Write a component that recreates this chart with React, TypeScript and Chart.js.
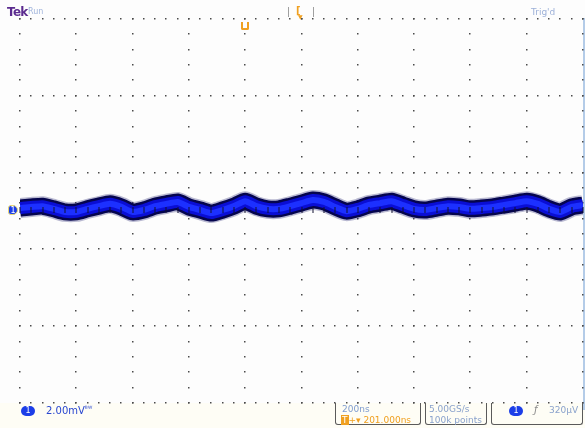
import React, { useEffect, useRef } from "react";
import { Chart, registerables } from "chart.js";

Chart.register(...registerables);

// time (ns) of each sample, relative to the trigger
const timeNs = [
  -800, -760, -720, -680, -640, -600, -560, -520, -480, -440,
  -400, -360, -320, -280, -240, -200, -160, -120, -80, -40,
  0, 40, 80, 120, 160, 200, 240, 280, 320, 360,
  400, 440, 480, 520, 560, 600, 640, 680, 720, 760,
  800, 840, 880, 920, 960, 1000, 1040, 1080, 1120, 1160, 1200,
];

// channel 1 trace centre (mV)
const ch1mV = [
  0.05, 0.08, 0.10, 0.03, -0.05, -0.05, 0.03, 0.10, 0.16, 0.08,
  -0.05, 0.00, 0.10, 0.16, 0.21, 0.08, 0.00, -0.08, 0.00, 0.10,
  0.23, 0.10, 0.03, 0.03, 0.10, 0.18, 0.26, 0.21, 0.08, -0.03,
  0.03, 0.13, 0.18, 0.23, 0.13, 0.03, 0.00, 0.05, 0.10, 0.08,
  0.03, 0.05, 0.08, 0.13, 0.18, 0.23, 0.16, 0.03, -0.05, 0.08, 0.13,
];

// graticule divisions
const xDivNs = [-800, -600, -400, -200, 0, 200, 400, 600, 800, 1000, 1200];
const yDivMv = [-5, -3, -1, 1, 3, 5];
const xMinorStepNs = 40;
const yMinorStepMv = 0.4;

const graticule = {
  id: "graticule",
  beforeDatasetsDraw(chart: any) {
    const { ctx, scales } = chart;
    const xs = scales.x;
    const ys = scales.y;
    ctx.save();
    ctx.fillStyle = "#4a4a4a";
    for (const xv of xDivNs) {
      const px = Math.round(xs.getPixelForValue(xv));
      for (let v = -5; v <= 5.001; v += yMinorStepMv) {
        const py = Math.round(ys.getPixelForValue(v));
        ctx.fillRect(px - 1, py, 1.5, 1.5);
      }
    }
    for (const yv of yDivMv) {
      const py = Math.round(ys.getPixelForValue(yv));
      for (let t = -800; t <= 1200.001; t += xMinorStepNs) {
        const px = Math.round(xs.getPixelForValue(t));
        ctx.fillRect(px - 1, py, 1.5, 1.5);
      }
    }
    ctx.restore();
  },
  afterDatasetsDraw(chart: any) {
    const { ctx, scales } = chart;
    const xs = scales.x;
    const ys = scales.y;
    ctx.save();
    ctx.fillStyle = "#101030";
    const py = Math.round(ys.getPixelForValue(0));
    for (let t = -800; t <= 1200.001; t += xMinorStepNs) {
      const px = Math.round(xs.getPixelForValue(t));
      ctx.fillRect(px - 0.5, py - 3, 1, 6);
    }
    ctx.restore();
  },
};

const txt: React.CSSProperties = {
  position: "absolute",
  fontFamily: "'DejaVu Sans', sans-serif",
  whiteSpace: "nowrap",
  lineHeight: 1,
};

const badge = (left: number, top: number): React.CSSProperties => ({
  ...txt,
  left,
  top,
  width: 14,
  height: 10,
  background: "#1c3ee8",
  borderRadius: 5,
  color: "#fff",
  fontSize: 8,
  textAlign: "center",
  lineHeight: "10px",
});

const box = (left: number, width: number): React.CSSProperties => ({
  position: "absolute",
  left,
  top: 403,
  width,
  height: 22,
  border: "1px solid #5a5a5a",
  borderTop: "none",
  borderRadius: "0 0 3px 3px",
  boxSizing: "border-box",
});

export default function App() {
  const ref = useRef<HTMLCanvasElement | null>(null);

  useEffect(() => {
    const canvas = ref.current;
    if (!canvas) return;
    const pts = timeNs.map((t, i) => ({ x: t, y: ch1mV[i] }));
    const layer = (w: number, c: string, order: number) => ({
      data: pts,
      borderColor: c,
      borderWidth: w,
      pointRadius: 0,
      tension: 0.2,
      fill: false,
      order,
      borderJoinStyle: "round" as const,
      borderCapStyle: "butt" as const,
    });
    const chart = new Chart(canvas, {
      type: "line",
      data: {
        // lower order is drawn on top
        datasets: [
          layer(6, "#1c30ff", 0),
          layer(12, "#0a0ed4", 1),
          layer(17, "#05054e", 2),
          layer(20, "rgba(30,30,110,0.3)", 3),
        ],
      },
      options: {
        animation: false,
        responsive: false,
        maintainAspectRatio: false,
        layout: { padding: { left: 20, right: 2, top: 18, bottom: 26 } },
        plugins: { legend: { display: false }, tooltip: { enabled: false } },
        scales: {
          x: { type: "linear", min: -800, max: 1200, display: false },
          y: { type: "linear", min: -5, max: 5, display: false },
        },
      },
      plugins: [graticule],
    });
    return () => chart.destroy();
  }, []);

  return (
    <div
      style={{
        position: "fixed",
        left: 0,
        top: 0,
        width: 585,
        height: 428,
        background: "#fdfdfd",
        overflow: "hidden",
      }}
    >
      <div style={{ position: "absolute", left: 0, top: 403, width: 585, height: 25, background: "#fefdf5" }} />
      <div style={{ position: "absolute", left: 583, top: 18, width: 2, height: 392, background: "#b4cce8" }} />
      <canvas ref={ref} width={585} height={428} style={{ position: "absolute", left: 0, top: 0 }} />

      {/* top bar */}
      <div style={{ ...txt, left: 7, top: 6, fontSize: 12, fontWeight: "bold", color: "#5b2b8f", letterSpacing: -0.7 }}>Tek</div>
      <div style={{ ...txt, left: 28, top: 8, fontSize: 8, color: "#a0b4dc" }}>Run</div>
      <div style={{ ...txt, left: 531, top: 8, fontSize: 9, color: "#9cb0d8" }}>Trig'd</div>
      <div style={{ position: "absolute", left: 288, top: 7, width: 1, height: 10, background: "#a0a0a0" }} />
      <div style={{ position: "absolute", left: 313, top: 7, width: 1, height: 10, background: "#a0a0a0" }} />
      <div style={{ ...txt, left: 296, top: 6, fontSize: 10, fontWeight: "bold", color: "#f0a020" }}>[</div>
      <div style={{ ...txt, left: 298, top: 14, fontSize: 6, color: "#f0a020" }}>▼</div>
      <div
        style={{
          position: "absolute",
          left: 241,
          top: 22,
          width: 4,
          height: 6,
          border: "2px solid #f0a020",
          borderTop: "none",
          borderRadius: "0 0 2px 2px",
        }}
      />

      {/* channel 1 ground marker */}
      <div
        style={{
          ...txt,
          left: 8,
          top: 205,
          width: 10,
          height: 10,
          background: "#1c3ee8",
          border: "1px solid #e8d870",
          borderRadius: "3px 5px 5px 3px",
          boxSizing: "border-box",
          color: "#fff",
          fontSize: 8,
          textAlign: "center",
          lineHeight: "9px",
        }}
      >
        1
      </div>

      {/* bottom left: channel scale */}
      <div style={badge(21, 406)}>1</div>
      <div style={{ ...txt, left: 46, top: 406, fontSize: 10, color: "#2846d0" }}>
        2.00mV<span style={{ fontSize: 7, verticalAlign: "top" }}>ᴮᵂ</span>
      </div>

      {/* horizontal box */}
      <div style={box(335, 86)} />
      <div style={{ ...txt, left: 342, top: 405, fontSize: 9, color: "#7f9ccf" }}>200ns</div>
      <div style={{ ...txt, left: 341, top: 416, fontSize: 9, color: "#f0a020" }}>
        <span style={{ background: "#f0a020", color: "#fff", padding: "0 1px" }}>T</span>+▾ 201.000ns
      </div>

      {/* acquisition box */}
      <div style={box(425, 62)} />
      <div style={{ ...txt, left: 429, top: 405, fontSize: 9, color: "#8aa2cc" }}>5.00GS/s</div>
      <div style={{ ...txt, left: 429, top: 416, fontSize: 9, color: "#8aa2cc" }}>100k points</div>

      {/* trigger box */}
      <div style={box(491, 92)} />
      <div style={badge(509, 406)}>1</div>
      <div style={{ ...txt, left: 534, top: 405, fontSize: 10, color: "#8a8a8a", fontStyle: "italic" }}>ƒ</div>
      <div style={{ ...txt, left: 549, top: 406, fontSize: 9, color: "#8aa2cc" }}>320µV</div>
    </div>
  );
}
